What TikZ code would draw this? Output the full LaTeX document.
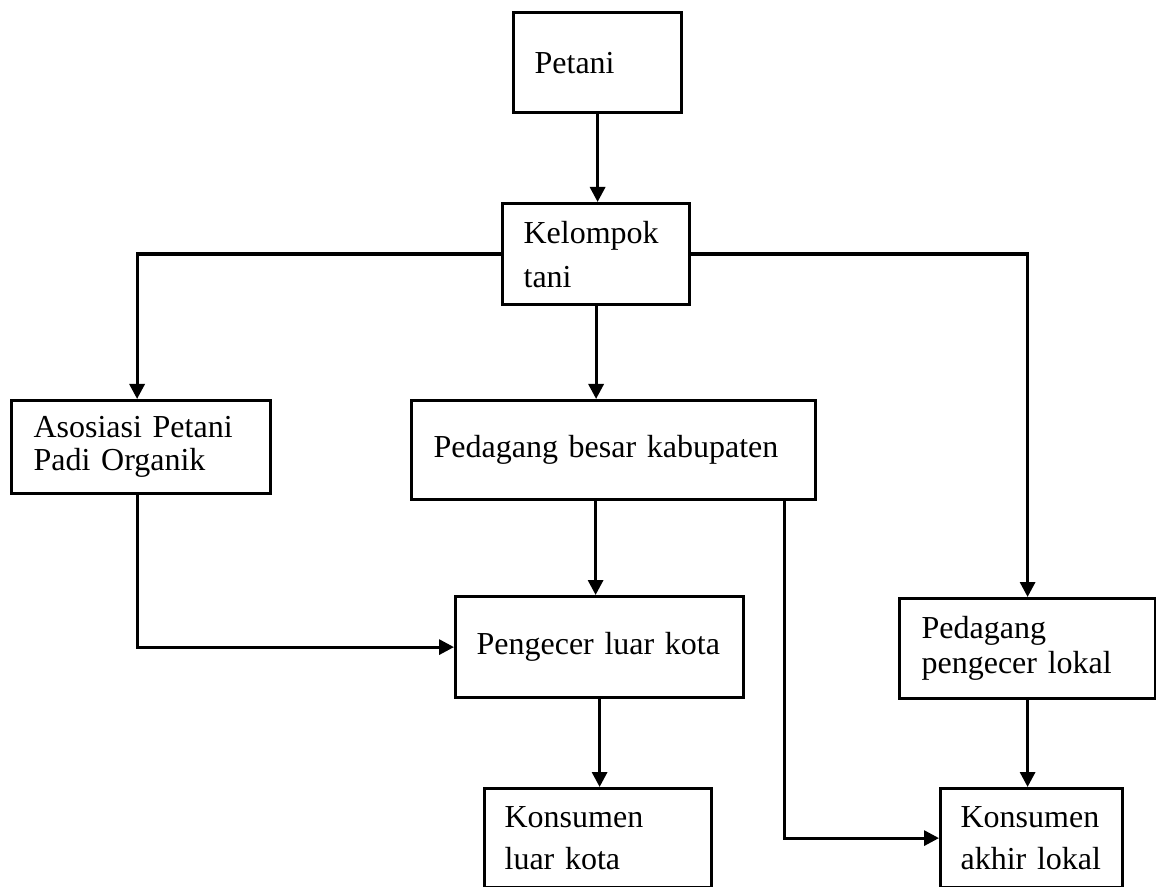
\documentclass[tikz,border=0pt]{standalone}
\usepackage{fontspec}
\setmainfont{Liberation Serif}
\usetikzlibrary{positioning,arrows.meta}

\tikzset{
  box/.style={draw, line width=1.6pt, anchor=north west, align=left,
    inner xsep=10.5pt, inner ysep=0pt, font=\fontsize{16}{22}\selectfont},
  lines/.style={font=\fontsize{16}{#1}\selectfont},
  flow/.style={line width=1.6pt, -{Triangle[length=7.5pt,width=7.5pt]}},
}

\begin{document}
\begin{tikzpicture}[x=0.5pt, y=-0.5pt]
    \useasboundingbox (0,0) rectangle (1156,887);

    \node[box, minimum width=84pt, minimum height=50pt, text width=63pt] (petani) at (512,11) {Petani};
    \node[box, minimum width=93.5pt, minimum height=50.5pt, text width=72.5pt] (kelompok) at (501,202) {Kelompok\\tani};

    \node[box, lines=16.5pt, inner xsep=11pt, minimum width=129.5pt, minimum height=46.5pt, text width=107.5pt] (asosiasi) at (10,399) {Asosiasi Petani\\Padi Organik};
    \node[box, inner xsep=11pt, minimum width=202pt, minimum height=49.5pt, text width=180pt] (besar) at (410,399) {Pedagang besar kabupaten};

    \node[box, minimum width=144pt, minimum height=50.5pt, text width=123pt] (pengecer) at (454,595) {Pengecer luar kota};
    \node[box, lines=17.5pt, inner xsep=11pt, minimum width=128pt, minimum height=50pt, text width=106pt] (lokal) at (898,597) {Pedagang\\pengecer lokal};

    \node[box, lines=21pt, inner xsep=10pt, minimum width=113.5pt, minimum height=49.5pt, text width=93.5pt] (luarkota) at (483,787) {Konsumen\\luar kota};
    \node[box, lines=21pt, inner xsep=10pt, minimum width=91pt, minimum height=49.5pt, text width=71pt] (akhir) at (939,787) {Konsumen\\\mbox{akhir lokal}};

    % alur pemasaran
    \draw[flow] (petani.south) -- (petani.south |- kelompok.north);
    \draw[flow] (kelompok.west) -| ([xshift=-2pt]asosiasi.north);
    \draw[flow] (kelompok.south) -- (kelompok.south |- besar.north);
    \draw[flow] (kelompok.east) -| (lokal.north);
    \draw[flow] ([xshift=-2pt]asosiasi.south) |- (pengecer.west);
    \draw[flow] ([xshift=-9pt]besar.south) -- ([xshift=-9pt]besar.south |- pengecer.north);
    \draw[flow] ([xshift=-16.5pt]besar.south east) |- (akhir.west);
    \draw[flow] (pengecer.south) -- (pengecer.south |- luarkota.north);
    \draw[flow] (lokal.south) -- (lokal.south |- akhir.north);

\end{tikzpicture}
\end{document}
